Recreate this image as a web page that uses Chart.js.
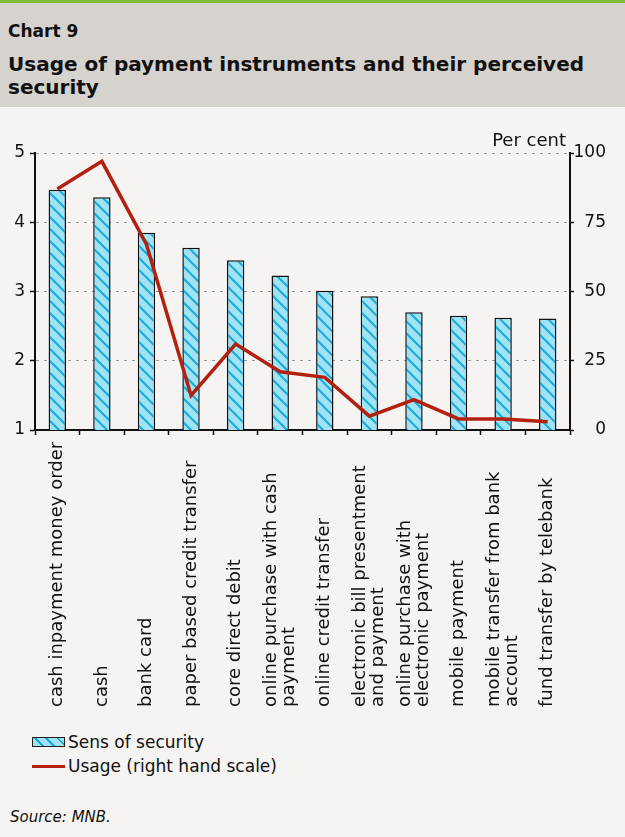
<!DOCTYPE html>
<html lang="en">

<head>
  <meta charset="UTF-8">
  <title>Chart 9 - Usage of payment instruments</title>
  <script src="https://cdn.jsdelivr.net/npm/chart.js"></script>
  <style>
    body {
      margin: 0;
      background: #f5f4f2;
      font-family: "DejaVu Sans", sans-serif;
      color: #111;
    }

    .page {
      position: relative;
      width: 625px;
      height: 837px;
      overflow: hidden;
    }

    .topline {
      position: absolute;
      left: 0; top: 0;
      width: 625px; height: 3px;
      background: #7fbb32;
    }

    .head {
      position: absolute;
      left: 0; top: 3px;
      width: 625px; height: 104px;
      background: #d6d2cd;
    }

    .head .num {
      position: absolute;
      left: 8px; top: 20px;
      font-size: 17px; font-weight: bold;
      line-height: 1;
    }

    .head .title {
      position: absolute;
      left: 8px; top: 50px;
      font-size: 20px; font-weight: bold;
      line-height: 23px;
    }

    .chart-box {
      position: absolute;
      left: 0; top: 107px;
      width: 625px; height: 613px;
    }

    .legend {
      position: absolute;
      left: 32px; top: 730px;
      font-size: 17px;
    }

    .legend div {
      display: flex;
      align-items: center;
      height: 24px;
    }

    .legend .box {
      width: 31px; height: 8px;
      margin-right: 3px;
      border: 1px solid #222;
      background: repeating-linear-gradient(45deg, #a0e3f4 0 6px, #18aad8 6px 8px);
    }

    .legend .ln {
      width: 33px; height: 3px;
      margin-right: 3px;
      background: #b3200f;
    }

    .source {
      position: absolute;
      left: 10px; top: 810px;
      font-size: 15px; font-style: italic;
      line-height: 1;
    }
  </style>
</head>

<body>
  <div class="page">
    <div class="topline"></div>
    <div class="head">
      <div class="num">Chart 9</div>
      <div class="title">Usage of payment instruments and their perceived<br>security</div>
    </div>

    <div class="chart-box">
      <canvas id="mainChart" width="625" height="613"></canvas>
    </div>

    <div class="legend">
      <div><span class="box"></span>Sens of security</div>
      <div><span class="ln"></span>Usage (right hand scale)</div>
    </div>

    <div class="source">Source: MNB.</div>
  </div>

  <script>
    // data
    const categories = [
      'cash inpayment money order',
      'cash',
      'bank card',
      'paper based credit transfer',
      'core direct debit',
      ['online purchase with cash', 'payment'],
      'online credit transfer',
      ['electronic bill presentment', 'and payment'],
      ['online purchase with', 'electronic payment'],
      'mobile payment',
      ['mobile transfer from bank', 'account'],
      'fund transfer by telebank'
    ];
    const security = [4.47, 4.36, 3.85, 3.63, 3.45, 3.23, 3.01, 2.93, 2.70, 2.65, 2.62, 2.61];
    const usage = [87, 97, 67, 12.5, 31, 21, 19, 5, 11, 4, 4, 3];
    const leftTicks = [1, 2, 3, 4, 5];
    const rightTicks = [0, 25, 50, 75, 100];
    const unitLabel = 'Per cent';

    const FONT = '"DejaVu Sans", sans-serif';

    // striped fill for the bars
    function stripes() {
      const c = document.createElement('canvas');
      c.width = 12; c.height = 12;
      const g = c.getContext('2d');
      g.fillStyle = '#a0e3f4';
      g.fillRect(0, 0, 12, 12);
      g.strokeStyle = '#18aad8';
      g.lineWidth = 2;
      g.beginPath();
      g.moveTo(-2, -2); g.lineTo(14, 14);
      g.moveTo(-2, 10); g.lineTo(2, 14);
      g.moveTo(10, -2); g.lineTo(14, 2);
      g.stroke();
      return g.createPattern(c, 'repeat');
    }

    // rotated category labels, anchored at the bottom, plus the unit label
    const extraText = {
      id: 'extraText',
      afterDraw(chart) {
        const { ctx, chartArea } = chart;
        const x = chart.scales.x;
        ctx.save();
        ctx.fillStyle = '#111';
        ctx.font = '18px ' + FONT;
        ctx.textAlign = 'left';
        ctx.textBaseline = 'middle';
        categories.forEach((lab, i) => {
          const lines = Array.isArray(lab) ? lab : [lab];
          const cx = x.getPixelForValue(i);
          lines.forEach((t, j) => {
            const off = (j - (lines.length - 1) / 2) * 18;
            ctx.save();
            ctx.translate(cx + off, chartArea.bottom + 277);
            ctx.rotate(-Math.PI / 2);
            ctx.fillText(t, 0, 0);
            ctx.restore();
          });
        });
        ctx.textAlign = 'right';
        ctx.textBaseline = 'alphabetic';
        ctx.fillText(unitLabel, chartArea.right - 4, chartArea.top - 7);
        ctx.restore();
      }
    };

    const ctx = document.getElementById('mainChart').getContext('2d');
    new Chart(ctx, {
      type: 'bar',
      data: {
        labels: categories,
        datasets: [{
          label: 'Sens of security',
          data: security,
          yAxisID: 'y',
          backgroundColor: stripes(),
          borderColor: '#111',
          borderWidth: 1.5,
          borderSkipped: false,
          barPercentage: 0.39,
          categoryPercentage: 1,
          order: 1
        }, {
          type: 'line',
          label: 'Usage (right hand scale)',
          data: usage,
          yAxisID: 'y1',
          borderColor: '#b3200f',
          borderWidth: 3.5,
          pointRadius: 0,
          tension: 0,
          order: 0
        }]
      },
      options: {
        responsive: false,
        animation: false,
        devicePixelRatio: 1,
        layout: { padding: { top: 46, left: 0, right: 19, bottom: 0 } },
        plugins: {
          legend: { display: false },
          tooltip: { enabled: false }
        },
        scales: {
          x: {
            ticks: { display: false },
            grid: {
              offset: true,
              drawOnChartArea: false,
              tickLength: 5,
              tickColor: '#111',
              tickWidth: 1.5
            },
            border: { color: '#111', width: 2 },
            afterFit: s => { s.height = 290; }
          },
          y: {
            position: 'left',
            min: leftTicks[0],
            max: leftTicks[leftTicks.length - 1],
            afterBuildTicks: s => { s.ticks = leftTicks.map(v => ({ value: v })); },
            ticks: {
              color: '#111',
              font: { family: FONT, size: 17 },
              padding: 5
            },
            grid: {
              color: c => (c.tick && c.tick.value === leftTicks[0]) ? 'rgba(0,0,0,0)' : '#9a9a9a',
              lineWidth: 1,
              tickLength: 5,
              tickColor: '#111',
              tickWidth: 1.5
            },
            border: { color: '#111', width: 2, dash: [3, 5] },
            afterFit: s => { s.width = 35; }
          },
          y1: {
            position: 'right',
            min: rightTicks[0],
            max: rightTicks[rightTicks.length - 1],
            afterBuildTicks: s => { s.ticks = rightTicks.map(v => ({ value: v })); },
            ticks: {
              color: '#111',
              font: { family: FONT, size: 17 },
              padding: 1,
              crossAlign: 'far'
            },
            grid: {
              drawOnChartArea: false,
              tickLength: 4,
              tickColor: '#111',
              tickWidth: 1.5
            },
            border: { color: '#111', width: 2 },
            afterFit: s => { s.width = 36; }
          }
        }
      },
      plugins: [extraText]
    });
  </script>
</body>

</html>
